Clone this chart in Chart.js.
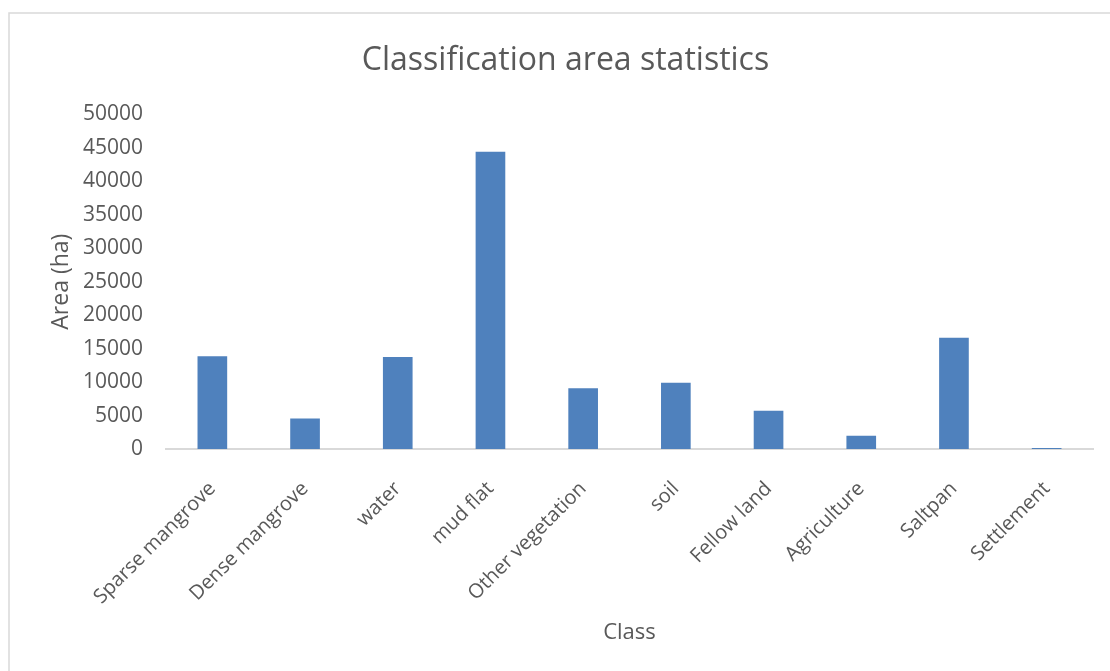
<!DOCTYPE html>
<html>
<head>
<meta charset="utf-8">
<script src="https://cdn.jsdelivr.net/npm/chart.js@4"></script>
<style>
  html, body { margin: 0; padding: 0; background: #fff; }
  #wrap { width: 1110px; height: 671px; position: relative; }
</style>
</head>
<body>
<div id="wrap"><canvas id="c" width="1110" height="671"></canvas></div>
<script>
const chartTitle = "Classification area statistics";
const xTitle = "Class";
const yTitle = "Area (ha)";
const categories = ["Sparse mangrove", "Dense mangrove", "water", "mud flat", "Other vegetation", "soil", "Fellow land", "Agriculture", "Saltpan", "Settlement"];
const areaValues = [13850, 4540, 13750, 44430, 9060, 9890, 5730, 1975, 16630, 150];
const yTicks = [0, 5000, 10000, 15000, 20000, 25000, 30000, 35000, 40000, 45000, 50000];

const textColor = "#595959";
const fontFamily = "'Open Sans', 'Noto Sans', sans-serif";

const frame = {
  id: "frame",
  beforeDraw(chart) {
    const ctx = chart.ctx;
    ctx.save();
    ctx.fillStyle = "#fff";
    ctx.fillRect(0, 0, chart.width, chart.height);
    ctx.strokeStyle = "#D9D9D9";
    ctx.lineWidth = 1.5;
    ctx.strokeRect(9, 13, chart.width + 20, chart.height + 20);
    ctx.restore();
  }
};

new Chart(document.getElementById("c"), {
  type: "bar",
  data: {
    labels: categories,
    datasets: [{
      label: yTitle,
      data: areaValues,
      backgroundColor: "#4F81BD",
      borderWidth: 0,
      categoryPercentage: 1,
      barPercentage: 0.32
    }]
  },
  options: {
    responsive: false,
    animation: false,
    devicePixelRatio: 1,
    layout: { padding: { left: 38, right: 17, top: 0, bottom: 0 } },
    plugins: {
      legend: { display: false },
      tooltip: { enabled: false },
      title: {
        display: true,
        text: chartTitle,
        color: textColor,
        font: { family: fontFamily, size: 32, weight: "normal", lineHeight: 1.2 },
        padding: { top: 42, bottom: 34 }
      }
    },
    scales: {
      x: {
        grid: { display: false, drawTicks: false },
        border: { display: true, color: "#D9D9D9", width: 2 },
        ticks: {
          color: textColor,
          font: { family: fontFamily, size: 20 },
          minRotation: 45,
          maxRotation: 45,
          autoSkip: false,
          padding: 28
        },
        title: {
          display: true,
          text: xTitle,
          color: textColor,
          font: { family: fontFamily, size: 22, lineHeight: 1.2 },
          padding: { top: 0, bottom: 25 }
        },
        afterFit(scale) { scale.height = 222; }
      },
      y: {
        min: 0,
        max: 50000,
        afterBuildTicks(scale) { scale.ticks = yTicks.map(v => ({ value: v })); },
        grid: { display: false, drawTicks: false },
        border: { display: false },
        ticks: {
          color: textColor,
          font: { family: fontFamily, size: 21 },
          padding: 23,
          callback: (v) => String(v)
        },
        title: {
          display: true,
          text: yTitle,
          color: textColor,
          font: { family: fontFamily, size: 23, lineHeight: 1.2 },
          padding: { top: 10, bottom: 0 }
        },
        afterFit(scale) { scale.width = 128; }
      }
    }
  },
  plugins: [frame]
});
</script>
</body>
</html>
